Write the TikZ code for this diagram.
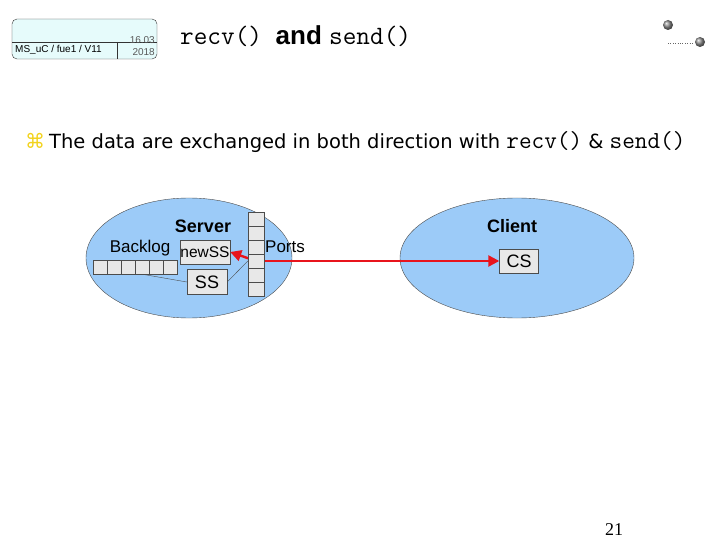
\documentclass[tikz,border=0pt]{standalone}
\usepackage{fontspec}
\setmainfont{Liberation Sans}
\newfontfamily\symfont{DejaVu Sans}
\newfontfamily\pagefont{Liberation Serif}
\newcommand\codetxt[2]{{\fontsize{#1}{#1}\selectfont\ttfamily\addfontfeatures{FakeBold=1.3}#2}}
\usetikzlibrary{positioning,arrows.meta}
\definecolor{blob}{HTML}{9CCBF8}
\definecolor{cellgray}{HTML}{E8E8E8}
\definecolor{headcyan}{HTML}{E6FBFB}
\definecolor{bulletyellow}{HTML}{F2D21C}
\definecolor{linkred}{HTML}{E8141C}
\tikzset{
  host/.style={draw=black!70, fill=blob, thin},
  cell/.style={draw=black!70, fill=cellgray, minimum width=14pt, minimum height=14pt, inner sep=0pt},
  sock/.style={draw=black!70, fill=cellgray, inner sep=0pt, font=\fontsize{18}{18}\selectfont},
  tag/.style={inner sep=0pt, font=\fontsize{17}{17}\selectfont},
  link/.style={linkred, line width=2.4pt, -{Triangle[length=11pt,width=11pt]}},
  wire/.style={draw=black!70, thin}
}

\begin{document}
\begin{tikzpicture}[x=1pt,y=-1pt]
  \useasboundingbox (0,0) rectangle (720,540);
  % header
  \draw[rounded corners=5pt, fill=headcyan, draw=black!80] (12,19) rectangle (157,59);
  \draw[black!80] (12,42) -- (157,42) (117,42) -- (117,59);
  \node[font=\fontsize{10}{10}\selectfont, inner sep=0pt, anchor=base west] (course) at (15,53) {MS\_uC / fue1 / V11};
  \node[font=\fontsize{10}{10}\selectfont, text=black!65, inner sep=0pt, anchor=base east] (day) at (155,44) {16.03};
  \node[font=\fontsize{10}{10}\selectfont, text=black!65, inner sep=0pt, anchor=base east] (year) at (155,56) {2018};
  \node[inner sep=0pt, anchor=base west] (title) at (180,45)
    {\codetxt{26.5}{recv() }{\fontsize{26}{26}\selectfont\bfseries and }\codetxt{26.5}{send()}};
  % globes
  \shade[ball color=black!45] (668,25) circle (5pt);
  \shade[ball color=black!45] (700,42) circle (5pt);
  \draw[black!60, dotted, thin] (668,43) -- (694,43);
  % bullet
  \node[inner sep=0pt, anchor=base west, text=bulletyellow, font=\symfont\fontsize{20}{20}\selectfont] (mark) at (25,149) {⌘};
  \node[inner sep=0pt, anchor=base west, font=\symfont\fontsize{19.5}{19.5}\selectfont] (line) at (49,149)
    {The data are exchanged in both direction with \codetxt{24.5}{recv()} \& \codetxt{24.5}{send()}};
  % hosts
  \draw[host] (189,258) ellipse [x radius=103pt, y radius=60pt];
  \draw[host] (517,258) ellipse [x radius=117pt, y radius=60pt];
  \node[tag, font=\bfseries\fontsize{18}{18}\selectfont] (server) at (203,226) {Server};
  \node[tag, font=\bfseries\fontsize{18}{18}\selectfont] (client) at (512,226) {Client};
  \node[tag] (backlog) at (140,248) {Backlog};
  \node[tag, anchor=west] (ports) at (265,247) {Ports};
  \foreach \i in {1,...,6}
    \node[cell] (b\i) at (86+14*\i,267) {};
  \node[sock, minimum width=50pt, minimum height=24pt, font=\fontsize{15.5}{15.5}\selectfont] (newSS) at (205,252) {newSS};
  \node[sock, minimum width=40pt, minimum height=25pt] (SS) at (207,282) {SS};
  \node[sock, minimum width=39pt, minimum height=24pt] (CS) at (519,261) {CS};
  \coordinate (pin) at (256,261);
  \draw[link] (pin) -- (CS);
  \draw[link] (pin) -- (newSS.east);
  \draw[wire] (b4.south) -- (SS.west);
  \foreach \i in {1,...,6}
    \node[cell, minimum width=16pt] (p\i) at (256,205+14*\i) {};
  \draw[wire] (SS.east) -- (p4.west);
  % page
  \node[font=\pagefont\fontsize{18}{18}\selectfont, inner sep=0pt, anchor=base] (page) at (614,535) {21};
\end{tikzpicture}
\end{document}
